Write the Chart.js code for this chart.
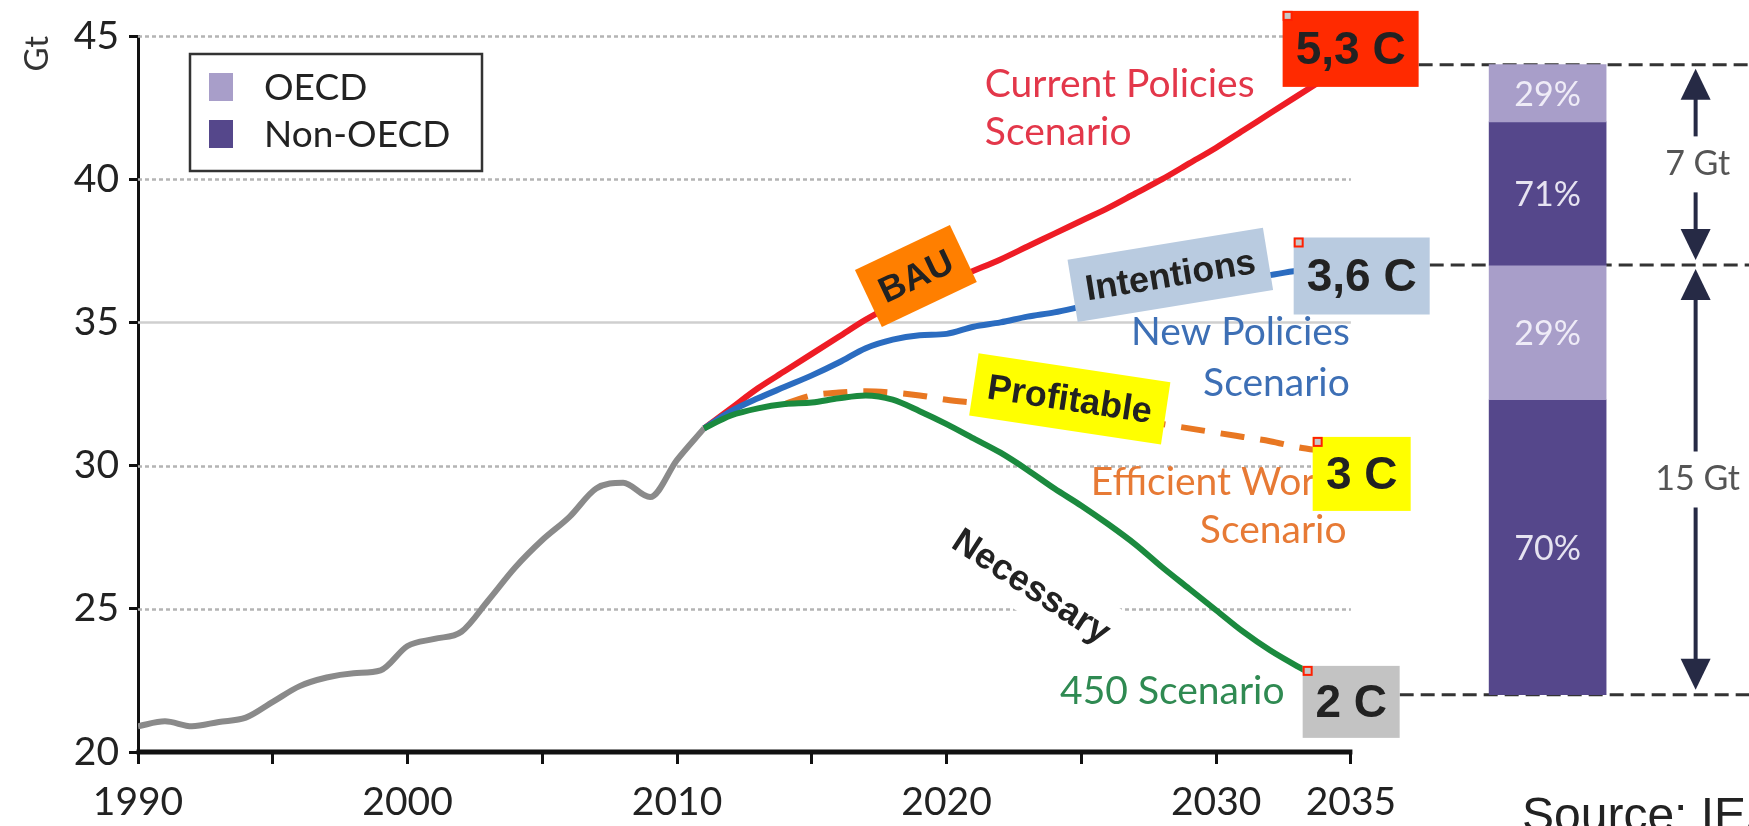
<!DOCTYPE html>
<html>
<head>
<meta charset="utf-8">
<script src="https://cdn.jsdelivr.net/npm/chart.js@4.4.1/dist/chart.umd.min.js"></script>
<style>
html,body{margin:0;padding:0;background:#fff;}
canvas{display:block;}
</style>
</head>
<body>
<canvas id="c" width="1749" height="826"></canvas>
<script>
// ---------------- DATA ----------------
const histYears = [1990,1991,1992,1993,1994,1995,1996,1997,1998,1999,2000,2001,2002,2003,2004,2005,2006,2007,2008,2009,2010,2011];
const histValues = [20.9,21.07,20.9,21.05,21.2,21.75,22.3,22.6,22.75,22.85,23.7,23.95,24.2,25.3,26.45,27.4,28.2,29.2,29.4,28.9,30.2,31.3];

const scenYears = [2011,2012,2013,2014,2015,2016,2017,2018,2019,2020,2021,2022,2023,2024,2025,2026,2027,2028,2029,2030,2031,2032,2033,2034,2035];
const currentPolicies = [31.3,32.0,32.7,33.3,33.9,34.5,35.1,35.6,36.0,36.4,36.8,37.2,37.65,38.1,38.55,39.0,39.5,40.0,40.55,41.1,41.7,42.3,42.9,43.5,44.1];
const newPolicies = [31.3,31.9,32.35,32.75,33.15,33.6,34.1,34.4,34.55,34.6,34.85,35.0,35.2,35.35,35.55,35.75,35.9,36.05,36.2,36.35,36.5,36.65,36.8,36.9,37.0];
const scenario450 = [31.3,31.75,32.0,32.15,32.2,32.35,32.45,32.3,31.9,31.45,30.95,30.45,29.85,29.2,28.6,27.95,27.25,26.45,25.7,24.95,24.2,23.55,23.0,22.5,22.0];

const efficientYears = [2014,2015,2016,2017,2018,2019,2020,2021,2022,2023,2024,2025,2026,2027,2028,2029,2030,2031,2032,2033,2034,2035];
const efficientWorld = [32.15,32.45,32.55,32.6,32.55,32.45,32.3,32.2,32.1,32.0,31.9,31.8,31.7,31.6,31.45,31.3,31.15,31.0,30.85,30.65,30.5,30.35];

const xTickYears = [1990,1995,2000,2005,2010,2015,2020,2025,2030,2035];
const xLabelYears = [1990,2000,2010,2020,2030,2035];
const yTickValues = [20,25,30,35,40,45];

// 2035 gap bar (stacked shares)
const barSlot = '2035';
const barCategories = ['', ' ', '  ', barSlot];
const segmentRegion = ['OECD','Non-OECD','OECD','Non-OECD'];
const segmentLow = [42, 37, 32.3, 22];
const segmentHigh = [44, 42, 37, 32.3];
const segmentLabels = ['29%','71%','29%','70%'];
const gapLevels = [44, 37, 22];
const gapLabels = ['7 Gt','15 Gt'];

// ---------------- STYLE ----------------
const regionColor = {'OECD':'#a89ec9','Non-OECD':'#55478b'};

// annotations: centres in data units, sizes in px
const endBoxes = [
  {text:'5,3 C', x:2034.99, y:44.55, w:136, h:76, bg:'#ff2a00', handle:true},
  {text:'3,6 C', x:2035.40, y:36.62, w:136, h:77, bg:'#b9cbe0', handle:true},
  {text:'3 C',   x:2035.40, y:29.71, w:98,  h:74, bg:'#ffff00', handle:true},
  {text:'2 C',   x:2035.01, y:21.75, w:97,  h:72, bg:'#c3c3c3', handle:true}
];
const refLineBox = [0, 1, 3];
const tagBoxes = [
  {text:'BAU',        x:2018.86, y:36.62, w:105, h:63, angle:-25.3, bg:'#ff7f00'},
  {text:'Intentions', x:2028.30, y:36.66, w:198, h:63, angle:-9.3,  bg:'#b9cbe0'},
  {text:'Profitable', x:2024.57, y:32.33, w:194, h:63, angle:8.6,   bg:'#ffff00'},
  {text:'Necessary',  x:2023.16, y:25.80, w:215, h:58, angle:33,    bg:'#ffffff'}
];
const sceneLabels = [
  {lines:['Current Policies','Scenario'], x:2021.42, y:[43.32,41.65], align:'left',  color:'#e3374a'},
  {lines:['New Policies','Scenario'],     x:2034.96, y:[34.66,32.88], align:'right', color:'#3d6fb5'},
  {lines:['Efficient World','Scenario'],  x:2034.84, y:[29.43,27.72], align:'right', color:'#e77a35'},
  {lines:['450 Scenario'],                x:2032.54, y:[22.1],        align:'right', color:'#2f8a52'}
];

const toXY = (xs, ys) => xs.map((x, i) => ({x, y: ys[i]}));

const lineDatasets = [
  {label:'Historical', data:toXY(histYears, histValues), borderColor:'#8a8a8a', order:5},
  {label:'Current Policies Scenario', data:toXY(scenYears, currentPolicies), borderColor:'#ee1c25', order:3},
  {label:'New Policies Scenario', data:toXY(scenYears, newPolicies), borderColor:'#2b6cc0', order:2},
  {label:'Efficient World Scenario', data:toXY(efficientYears, efficientWorld), borderColor:'#e87722', borderDash:[24,16], order:4},
  {label:'450 Scenario', data:toXY(scenYears, scenario450), borderColor:'#1b8a3e', order:1}
].map(d => Object.assign({type:'line', xAxisID:'x', yAxisID:'y', borderWidth:6, pointRadius:0,
  cubicInterpolationMode:'monotone', fill:false, borderCapStyle:'butt', borderJoinStyle:'round'}, d));

const barDatasets = segmentLow.map((lo, i) => ({
  type:'bar', label:segmentRegion[i], xAxisID:'xb', yAxisID:'y',
  data:[{x:barSlot, y:[lo, segmentHigh[i]]}],
  backgroundColor:regionColor[segmentRegion[i]], borderWidth:0,
  barThickness:117, grouped:false, order:10
}));

// ---------------- PLUGIN ----------------
const decor = {
  id:'decor',
  beforeDatasetsDraw(chart){
    const {ctx, scales:{x, y}} = chart;
    ctx.save();
    const x0 = x.getPixelForValue(1990), x1 = x.getPixelForValue(2035);
    yTickValues.forEach(v => {
      if (v === 20) return;
      const py = Math.round(y.getPixelForValue(v)) + 0.5;
      ctx.beginPath();
      if (v === 35) { ctx.setLineDash([]); ctx.strokeStyle = '#cfcfcf'; }
      else { ctx.setLineDash([4,3]); ctx.strokeStyle = '#b4b4b4'; }
      ctx.lineWidth = 2.5;
      ctx.moveTo(x0, py); ctx.lineTo(x1, py); ctx.stroke();
    });
    ctx.setLineDash([14,7]);
    ctx.strokeStyle = '#333';
    ctx.lineWidth = 3;
    gapLevels.forEach((v, i) => {
      const b = endBoxes[refLineBox[i]];
      const sx = x.getPixelForValue(b.x) + b.w/2;
      const py = y.getPixelForValue(v);
      ctx.beginPath(); ctx.moveTo(sx, py); ctx.lineTo(chart.width, py); ctx.stroke();
    });
    ctx.restore();
  },
  afterDatasetsDraw(chart){
    const {ctx, scales:{x, y}, chartArea} = chart;
    ctx.save();
    ctx.setLineDash([]);
    ctx.strokeStyle = '#111'; ctx.lineWidth = 5;
    ctx.beginPath();
    ctx.moveTo(x.getPixelForValue(1990) - 1.5, y.getPixelForValue(20));
    ctx.lineTo(x.getPixelForValue(2035) + 1.5, y.getPixelForValue(20));
    ctx.stroke();

    ctx.font = '39px Lato';
    ctx.textBaseline = 'middle';
    sceneLabels.forEach(l => {
      ctx.fillStyle = l.color; ctx.textAlign = l.align;
      l.lines.forEach((t, i) => ctx.fillText(t, x.getPixelForValue(l.x), y.getPixelForValue(l.y[i])));
    });

    let barX = null;
    ctx.font = '34px Lato';
    ctx.textAlign = 'center';
    ctx.fillStyle = 'rgba(246,244,252,0.9)';
    chart.data.datasets.forEach((ds, i) => {
      if (ds.type !== 'bar') return;
      const el = chart.getDatasetMeta(i).data[0];
      if (!el) return;
      barX = el.x;
      const k = barDatasets.indexOf(ds);
      ctx.fillText(segmentLabels[k], el.x, (el.y + el.base)/2 + 2);
    });

    if (barX !== null) {
      const ax = barX + 148;
      ctx.strokeStyle = '#262a45'; ctx.fillStyle = '#262a45';
      ctx.lineWidth = 4;
      for (let i = 0; i < gapLevels.length - 1; i++) {
        const yt = y.getPixelForValue(gapLevels[i]) + 4;
        const yb = y.getPixelForValue(gapLevels[i+1]) - 5;
        const mid = (yt + yb)/2;
        const hl = 31, hw = 15, gap = 28;
        ctx.beginPath(); ctx.moveTo(ax, yt + hl - 2); ctx.lineTo(ax, mid - gap); ctx.stroke();
        ctx.beginPath(); ctx.moveTo(ax, mid + gap); ctx.lineTo(ax, yb - hl + 2); ctx.stroke();
        ctx.beginPath(); ctx.moveTo(ax, yt); ctx.lineTo(ax - hw, yt + hl); ctx.lineTo(ax + hw, yt + hl); ctx.closePath(); ctx.fill();
        ctx.beginPath(); ctx.moveTo(ax, yb); ctx.lineTo(ax - hw, yb - hl); ctx.lineTo(ax + hw, yb - hl); ctx.closePath(); ctx.fill();
        ctx.save();
        ctx.fillStyle = '#555';
        ctx.font = '34px Lato'; ctx.textAlign = 'center'; ctx.textBaseline = 'middle';
        ctx.fillText(gapLabels[i], ax + 2, mid);
        ctx.restore();
      }
    }

    const lx = chartArea.left + 52, ly = chartArea.top + 18, lw = 292, lh = 117;
    ctx.fillStyle = '#fff'; ctx.fillRect(lx, ly, lw, lh);
    ctx.strokeStyle = '#333'; ctx.lineWidth = 2.5; ctx.strokeRect(lx, ly, lw, lh);
    ['OECD','Non-OECD'].forEach((name, i) => {
      const cy = ly + 33 + i * 47;
      ctx.fillStyle = regionColor[name];
      ctx.fillRect(lx + 19, cy - 14, 24, 28);
      ctx.fillStyle = '#222'; ctx.font = '37px Lato'; ctx.textAlign = 'left'; ctx.textBaseline = 'middle';
      ctx.fillText(name, lx + 74, cy + 1);
    });

    endBoxes.forEach(b => {
      const cx = x.getPixelForValue(b.x), cy = y.getPixelForValue(b.y);
      ctx.fillStyle = b.bg; ctx.fillRect(cx - b.w/2, cy - b.h/2, b.w, b.h);
      ctx.fillStyle = '#222'; ctx.font = 'bold 46px "Liberation Sans"';
      ctx.textAlign = 'center'; ctx.textBaseline = 'middle';
      ctx.fillText(b.text, cx, cy + 2);
      if (b.handle) {
        ctx.fillStyle = '#c8c8c8'; ctx.fillRect(cx - b.w/2 + 1, cy - b.h/2 + 1, 8, 8);
        ctx.strokeStyle = '#ff2000'; ctx.lineWidth = 2; ctx.strokeRect(cx - b.w/2 + 1, cy - b.h/2 + 1, 8, 8);
      }
    });

    tagBoxes.forEach(b => {
      ctx.save();
      ctx.translate(x.getPixelForValue(b.x), y.getPixelForValue(b.y));
      ctx.rotate(b.angle * Math.PI / 180);
      ctx.fillStyle = b.bg; ctx.fillRect(-b.w/2, -b.h/2, b.w, b.h);
      ctx.fillStyle = '#222'; ctx.font = 'bold 36px "Liberation Sans"';
      ctx.textAlign = 'center'; ctx.textBaseline = 'middle';
      ctx.fillText(b.text, 0, 2);
      ctx.restore();
    });

    ctx.fillStyle = '#222'; ctx.font = '48px "Liberation Sans"';
    ctx.textAlign = 'left'; ctx.textBaseline = 'alphabetic';
    ctx.fillText('Source: IEA', 1522, 831);
    ctx.restore();
  }
};

new Chart(document.getElementById('c'), {
  type:'line',
  data:{datasets:[...lineDatasets, ...barDatasets]},
  options:{
    responsive:false, animation:false, devicePixelRatio:1,
    layout:{padding:{top:36, right:0, bottom:0, left:0}},
    plugins:{legend:{display:false}, tooltip:{enabled:false}},
    scales:{
      x:{
        type:'linear', position:'bottom', min:1990, max:2049.77,
        afterBuildTicks(s){ s.ticks = xTickYears.map(v => ({value:v})); },
        ticks:{autoSkip:false, maxRotation:0, color:'#222', font:{family:'Lato', size:39}, padding:15,
          callback:(v) => xLabelYears.includes(v) ? String(v) : ''},
        grid:{display:true, drawOnChartArea:false, drawTicks:true, tickLength:12, tickColor:'#111', tickWidth:3},
        border:{display:false},
        afterFit(s){ s.height = 74; }
      },
      xb:{type:'category', labels:barCategories, offset:true, display:false, grid:{display:false}},
      y:{
        type:'linear', position:'left', min:20, max:45,
        afterBuildTicks(s){ s.ticks = yTickValues.map(v => ({value:v})); },
        ticks:{color:'#222', font:{family:'Lato', size:39}, padding:10},
        grid:{display:true, drawOnChartArea:false, drawTicks:true, tickLength:9, tickColor:'#111', tickWidth:3},
        border:{display:true, color:'#111', width:3},
        title:{display:true, text:'Gt', align:'end', color:'#333', font:{family:'Lato', size:33}, padding:{top:18, bottom:0}},
        afterFit(s){ s.width = 138; }
      }
    }
  },
  plugins:[decor]
});
</script>
</body>
</html>
